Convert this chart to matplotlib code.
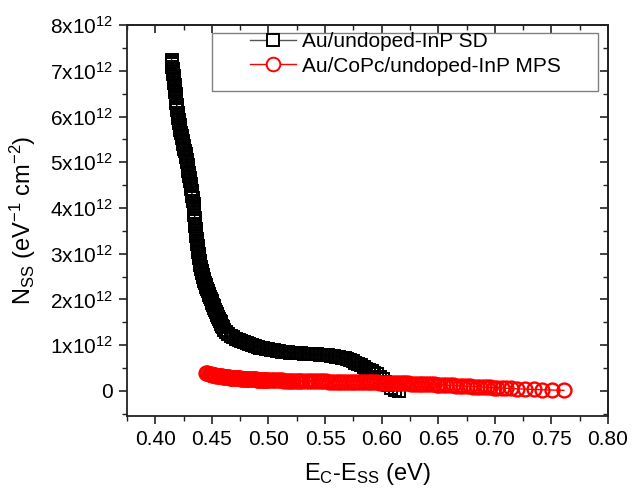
import matplotlib
matplotlib.use("Agg")
import matplotlib.pyplot as plt
from matplotlib.ticker import MultipleLocator, FuncFormatter
from matplotlib.patches import Rectangle
from matplotlib.lines import Line2D

plt.rcParams['font.family'] = ['Liberation Sans', 'DejaVu Sans']
plt.rcParams['mathtext.fontset'] = 'custom'
plt.rcParams['mathtext.rm'] = 'Liberation Sans'
plt.rcParams['mathtext.it'] = 'Liberation Sans'
plt.rcParams['mathtext.default'] = 'regular'
plt.rcParams['axes.unicode_minus'] = False

# ---------------- data ----------------
sd_label = "Au/undoped-InP SD"
mps_label = "Au/CoPc/undoped-InP MPS"

sd_x = [0.4144, 0.4146, 0.4149, 0.4151, 0.4154, 0.4156, 0.4158, 0.4161, 0.4163, 0.4165,
        0.4168, 0.4170, 0.4172, 0.4175, 0.4177, 0.4179, 0.4182, 0.4184,
        0.4185, 0.4187, 0.4189, 0.4191, 0.4193, 0.4196, 0.4199, 0.4202, 0.4206, 0.4210,
        0.4214, 0.4218, 0.4222, 0.4227, 0.4232, 0.4237, 0.4242, 0.4247, 0.4252, 0.4257,
        0.4262, 0.4267, 0.4272, 0.4277, 0.4281, 0.4285, 0.4289, 0.4293, 0.4297, 0.4301,
        0.4305, 0.4308, 0.4311, 0.4314, 0.4317, 0.4320, 0.4323, 0.4327, 0.4331,
        0.4335, 0.4338, 0.4340, 0.4342, 0.4344, 0.4346, 0.4348, 0.4350, 0.4352, 0.4354,
        0.4356, 0.4358, 0.4360, 0.4362, 0.4364, 0.4367, 0.4370, 0.4373, 0.4376,
        0.4378, 0.4381, 0.4384, 0.4387, 0.4390, 0.4393, 0.4396, 0.4399, 0.4403, 0.4407,
        0.4411, 0.4415, 0.4419, 0.4423, 0.4428, 0.4433, 0.4438, 0.4444, 0.4450, 0.4456,
        0.4463, 0.4470, 0.4477, 0.4484, 0.4491,
        0.4497, 0.4503, 0.4509, 0.4515, 0.4521, 0.4528, 0.4535, 0.4542, 0.4549, 0.4556,
        0.4563, 0.4570, 0.4577, 0.4583, 0.4589, 0.4595,
        0.4610, 0.4627, 0.4646, 0.4667, 0.4689, 0.4712, 0.4736, 0.4760, 0.4784,
        0.4808, 0.4832, 0.4856, 0.4880, 0.4904, 0.4928, 0.4952, 0.4976, 0.5000, 0.5024,
        0.5048, 0.5072, 0.5096, 0.5120, 0.5144, 0.5168, 0.5192, 0.5216, 0.5240, 0.5264,
        0.5288, 0.5312, 0.5336, 0.5360, 0.5384, 0.5408, 0.5432, 0.5456, 0.5480, 0.5504,
        0.5528, 0.5552, 0.5576, 0.5600, 0.5624, 0.5648, 0.5672, 0.5696, 0.5720, 0.5744,
        0.5768, 0.5792, 0.5816, 0.5840, 0.5864, 0.5888, 0.5912, 0.5936, 0.5960, 0.5984,
        0.6008, 0.6032, 0.6058, 0.6084, 0.6118, 0.6154]
sd_y = [7.24, 7.19, 7.14, 7.09, 7.04, 6.99, 6.94, 6.89, 6.84, 6.79,
        6.74, 6.69, 6.64, 6.59, 6.54, 6.49, 6.44, 6.40,
        6.35, 6.30, 6.25, 6.19, 6.14, 6.08, 6.03, 5.97, 5.92, 5.86,
        5.81, 5.75, 5.70, 5.64, 5.58, 5.53, 5.47, 5.41, 5.35, 5.30,
        5.24, 5.18, 5.12, 5.06, 5.00, 4.94, 4.88, 4.82, 4.76, 4.70,
        4.65, 4.59, 4.53, 4.48, 4.42, 4.37, 4.31, 4.26, 4.21,
        4.15, 4.09, 4.03, 3.97, 3.91, 3.85, 3.78, 3.72, 3.66, 3.60,
        3.54, 3.49, 3.43, 3.38, 3.32, 3.27, 3.22, 3.17, 3.12,
        3.08, 3.03, 2.99, 2.94, 2.90, 2.85, 2.81, 2.76, 2.72, 2.67,
        2.63, 2.58, 2.54, 2.49, 2.45, 2.40, 2.36, 2.31, 2.27, 2.22,
        2.18, 2.13, 2.09, 2.05, 2.01,
        1.97, 1.93, 1.89, 1.85, 1.81, 1.77, 1.73, 1.69, 1.65, 1.61,
        1.57, 1.54, 1.50, 1.47, 1.43, 1.40,
        1.34, 1.29, 1.25, 1.21, 1.17, 1.14, 1.11, 1.09, 1.07,
        1.05, 1.03, 1.01, 0.99, 0.97, 0.95, 0.94, 0.92, 0.91, 0.90,
        0.89, 0.88, 0.87, 0.86, 0.85, 0.85, 0.84, 0.83, 0.83, 0.82,
        0.82, 0.81, 0.81, 0.81, 0.80, 0.80, 0.80, 0.79, 0.79, 0.78,
        0.78, 0.77, 0.76, 0.75, 0.74, 0.73, 0.72, 0.70, 0.68, 0.65,
        0.62, 0.59, 0.56, 0.53, 0.49, 0.46, 0.43, 0.40, 0.36, 0.31,
        0.26, 0.20, 0.13, 0.07, 0.03, 0.00]  # x 10^12

mps_x = [0.445, 0.446, 0.447, 0.448, 0.449, 0.450, 0.451, 0.452, 0.453, 0.454,
         0.455, 0.456, 0.457, 0.458, 0.459, 0.460, 0.461, 0.462, 0.463, 0.464,
         0.465, 0.466, 0.467, 0.468, 0.469, 0.470, 0.471, 0.472, 0.473, 0.474,
         0.475, 0.476, 0.477, 0.478, 0.479, 0.480, 0.481, 0.482, 0.483, 0.484,
         0.485, 0.486, 0.487, 0.488, 0.489, 0.490, 0.491, 0.492, 0.493, 0.494,
         0.495, 0.496, 0.497, 0.498, 0.499, 0.500,
         0.502, 0.504, 0.506, 0.508, 0.510, 0.512, 0.514, 0.516, 0.518, 0.520,
         0.522, 0.524, 0.526, 0.528, 0.530,
         0.5335, 0.536, 0.5385, 0.541, 0.5435, 0.546, 0.5485, 0.551, 0.5535,
         0.556, 0.5585, 0.561, 0.5635, 0.566, 0.5685, 0.571, 0.5735, 0.576, 0.5785,
         0.581, 0.5835, 0.586, 0.5885, 0.591, 0.5935, 0.596, 0.5985, 0.601, 0.6035,
         0.606, 0.6085, 0.611, 0.6135, 0.616, 0.6185, 0.621, 0.6235, 0.626, 0.6285,
         0.631, 0.6335, 0.636, 0.6385, 0.641, 0.6435, 0.646, 0.6485,
         0.651, 0.654, 0.657, 0.660, 0.663, 0.666, 0.669, 0.672, 0.675, 0.678,
         0.681, 0.684, 0.687, 0.690, 0.693, 0.696, 0.699,
         0.702, 0.706, 0.710, 0.714, 0.7197, 0.7271, 0.7345, 0.7418, 0.7506, 0.761]
mps_y = [0.390, 0.382, 0.375, 0.368, 0.362, 0.356, 0.350, 0.345, 0.340, 0.335,
         0.331, 0.327, 0.323, 0.319, 0.316, 0.312, 0.309, 0.306, 0.303, 0.300,
         0.297, 0.294, 0.292, 0.289, 0.287, 0.284, 0.282, 0.280, 0.278, 0.276,
         0.274, 0.272, 0.270, 0.268, 0.266, 0.264, 0.263, 0.261, 0.260, 0.258,
         0.257, 0.255, 0.254, 0.252, 0.251, 0.250, 0.249, 0.247, 0.246, 0.245,
         0.244, 0.243, 0.242, 0.241, 0.240, 0.239,
         0.237, 0.235, 0.233, 0.232, 0.230, 0.229, 0.227, 0.226, 0.224, 0.223,
         0.222, 0.220, 0.219, 0.218, 0.217,
         0.215, 0.213, 0.212, 0.211, 0.210, 0.209, 0.208, 0.207, 0.206,
         0.205, 0.204, 0.203, 0.202, 0.201, 0.200, 0.199, 0.198, 0.197, 0.196,
         0.194, 0.193, 0.192, 0.190, 0.189, 0.187, 0.186, 0.184, 0.182, 0.181,
         0.179, 0.177, 0.175, 0.173, 0.171, 0.169, 0.167, 0.164, 0.162, 0.160,
         0.157, 0.155, 0.152, 0.150, 0.147, 0.144, 0.142, 0.139,
         0.136, 0.132, 0.129, 0.125, 0.121, 0.117, 0.113, 0.109, 0.105, 0.101,
         0.097, 0.093, 0.089, 0.085, 0.081, 0.077, 0.073,
         0.069, 0.064, 0.059, 0.054, 0.047, 0.039, 0.032, 0.026, 0.019, 0.012]  # x 10^12

scale = 1e12
x_ticks = [0.40, 0.45, 0.50, 0.55, 0.60, 0.65, 0.70, 0.75, 0.80]
y_ticks = [0, 1, 2, 3, 4, 5, 6, 7, 8]

# ---------------- figure ----------------
fig = plt.figure(figsize=(6.32, 4.93), dpi=100)
ax = fig.add_axes([0.201, 0.156, 0.761, 0.793])

ax.plot(sd_x, [v * scale for v in sd_y], color='black', lw=1.0,
        marker='s', ms=8.2, mfc='none', mec='black', mew=1.4, zorder=2)
ax.plot(mps_x, [v * scale for v in mps_y], color='red', lw=1.0,
        marker='o', ms=10.0, mfc='none', mec='red', mew=1.7, zorder=3)

ax.set_xlim(0.375, 0.80)
ax.set_ylim(-0.55e12, 8e12)
ax.set_xticks(x_ticks)
ax.set_yticks([v * scale for v in y_ticks])
ax.xaxis.set_minor_locator(MultipleLocator(0.025))
ax.yaxis.set_minor_locator(MultipleLocator(0.5e12))
ax.xaxis.set_major_formatter(FuncFormatter(lambda v, p: f"{v:.2f}"))


def yfmt(v, p):
    n = int(round(v / scale))
    if n == 0:
        return "0"
    return f"{n}x10$^{{12}}$"


ax.yaxis.set_major_formatter(FuncFormatter(yfmt))

spine_color = '#222222'
for s in ax.spines.values():
    s.set_linewidth(1.3)
    s.set_color(spine_color)

ax.tick_params(axis='both', which='major', direction='out', length=6, width=1.2,
               labelsize=15, color=spine_color, pad=4)
ax.tick_params(axis='both', which='minor', direction='out', length=3.5, width=1.0,
               color=spine_color)
# ticks on top/right (inward)
axt = ax.secondary_xaxis('top')
axt.set_xticks(x_ticks)
axt.xaxis.set_minor_locator(MultipleLocator(0.025))
axt.tick_params(which='major', direction='in', length=6, width=1.2, labeltop=False, color=spine_color)
axt.tick_params(which='minor', direction='in', length=3.5, width=1.0, color=spine_color)
axt.set_xticklabels([])
axr = ax.secondary_yaxis('right')
axr.set_yticks([v * scale for v in y_ticks])
axr.yaxis.set_minor_locator(MultipleLocator(0.5e12))
axr.tick_params(which='major', direction='in', length=6, width=1.2, color=spine_color)
axr.tick_params(which='minor', direction='in', length=3.5, width=1.0, color=spine_color)
axr.set_yticklabels([])
for s in list(axt.spines.values()) + list(axr.spines.values()):
    s.set_linewidth(1.3)
    s.set_color(spine_color)

ax.set_xlabel("E$_{C}$-E$_{SS}$ (eV)", fontsize=17)
ax.xaxis.set_label_coords(0.5, -0.115)
ax.set_ylabel("N$_{SS}$ (eV$^{-1}$ cm$^{-2}$)", fontsize=17)
ax.yaxis.set_label_coords(-0.185, 0.5)

# legend with a custom frame
frame = Rectangle((0.177, 0.831), 0.802, 0.149, transform=ax.transAxes,
                  facecolor='white', edgecolor='#808080', lw=1.0, zorder=4)
ax.add_patch(frame)
handles = [
    Line2D([], [], color='#555555', lw=1.0, marker='s', ms=8.2, mfc='white',
           mec='black', mew=1.4),
    Line2D([], [], color='red', lw=1.0, marker='o', ms=9.8, mfc='white',
           mec='red', mew=1.4),
]
leg = ax.legend(handles, [sd_label, mps_label], loc='upper left',
                bbox_to_anchor=(0.2475, 0.992), frameon=False,
                fontsize=15, handlelength=2.2, handletextpad=0.3, borderpad=0.2,
                labelspacing=0.25, borderaxespad=0.0)
leg.set_zorder(5)

fig.savefig("out.png", dpi=100)
